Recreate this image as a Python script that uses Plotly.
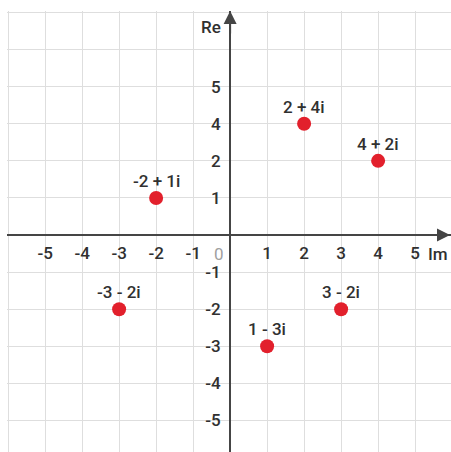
import plotly.graph_objects as go

# Points on the plane: horizontal position, vertical position, caption
im_values = [2, 4, -2, -3, 1, 3]
re_values = [4, 2, 1, -2, -3, -2]
point_labels = ["2 + 4i", "4 + 2i", "-2 + 1i", "-3 - 2i", "1 - 3i", "3 - 2i"]

# Horizontal axis ticks (every unit gets a grid line)
im_ticks = [-6, -5, -4, -3, -2, -1, 0, 1, 2, 3, 4, 5]
im_tick_text = ["", "-5", "-4", "-3", "-2", "-1", "", "1", "2", "3", "4", "5"]

# Vertical axis levels, bottom to top, and the labels printed beside them
re_levels = ["-5", "-4", "-3", "-2", "-1", "0", "1", "2", "4", "5", "6", "7"]
re_tick_text = ["-5", "-4", "-3", "-2", "-1", "", "1", "2", "4", "5", "", ""]

W, H = 451, 452
x_range = [-6.03, 5.97]
y_range = [-0.85, 11.04]

axis_color = "#454545"
grid_color = "#dedede"
text_color = "#303030"
dot_color = "#e2202c"
font_family = "Roboto, Arial, sans-serif"
label_font = dict(family=font_family, size=17, color=text_color, weight=500)

# Where the two axes cross, as paper fractions
y_axis_pos = (0 - x_range[0]) / (x_range[1] - x_range[0])
zero_idx = re_levels.index("0")
x_axis_pos = (zero_idx - y_range[0]) / (y_range[1] - y_range[0])

fig = go.Figure()
fig.add_trace(go.Scatter(
    x=im_values,
    y=[str(v) for v in re_values],
    mode="markers",
    marker=dict(size=14, color=dot_color, line=dict(width=0)),
    hoverinfo="skip",
    showlegend=False,
    cliponaxis=False,
))

# Captions sit just above each dot
for xv, yv, lab in zip(im_values, re_values, point_labels):
    fig.add_annotation(x=xv, xref="x", y=re_levels.index(str(yv)), yref="y",
                       text=lab, showarrow=False, xanchor="center",
                       yanchor="middle", yshift=17, font=label_font)

fig.update_layout(
    width=W,
    height=H,
    margin=dict(l=7, r=0, t=11, b=0, pad=0),
    paper_bgcolor="white",
    plot_bgcolor="white",
    font=dict(family=font_family, size=17, color=text_color),
    xaxis=dict(
        range=x_range,
        tickmode="array",
        tickvals=im_ticks,
        ticktext=im_tick_text,
        showgrid=True,
        gridcolor=grid_color,
        gridwidth=1,
        zeroline=False,
        showline=True,
        linecolor=axis_color,
        linewidth=2,
        anchor="free",
        position=x_axis_pos,
        ticks="",
        ticklabelstandoff=3,
        tickfont=label_font,
        automargin=False,
        fixedrange=True,
    ),
    yaxis=dict(
        type="category",
        categoryorder="array",
        categoryarray=re_levels,
        range=y_range,
        tickmode="array",
        tickvals=re_levels,
        ticktext=re_tick_text,
        showgrid=True,
        gridcolor=grid_color,
        gridwidth=1,
        zeroline=False,
        showline=True,
        linecolor=axis_color,
        linewidth=2,
        anchor="free",
        position=y_axis_pos,
        ticks="",
        ticklabelstandoff=5,
        tickfont=label_font,
        automargin=False,
        fixedrange=True,
    ),
)

# Arrow heads at the ends of both axes
fig.add_annotation(x=0, xref="x", y=1.0, yref="paper", ax=0, ay=24,
                   showarrow=True, arrowhead=2, arrowsize=1.3, arrowwidth=2,
                   arrowcolor=axis_color, text="", standoff=0)
fig.add_annotation(x=1.0, xref="paper", y=zero_idx, yref="y", ax=-24, ay=0,
                   showarrow=True, arrowhead=2, arrowsize=1.3, arrowwidth=2,
                   arrowcolor=axis_color, text="", standoff=0)

# Axis names and the origin mark
fig.add_annotation(x=0, xref="x", y=1.0, yref="paper", text="Re", showarrow=False,
                   xanchor="right", yanchor="top", xshift=-7, yshift=-4,
                   font=label_font)
fig.add_annotation(x=1.0, xref="paper", y=zero_idx, yref="y", text="Im", showarrow=False,
                   xanchor="right", yanchor="top", xshift=-1, yshift=-7,
                   font=label_font)
fig.add_annotation(x=0, xref="x", y=zero_idx, yref="y", text="0", showarrow=False,
                   xanchor="right", yanchor="top", xshift=-4, yshift=-7,
                   font=dict(family=font_family, size=17, color="#a0a0a0"))

fig.write_html("out.html")
